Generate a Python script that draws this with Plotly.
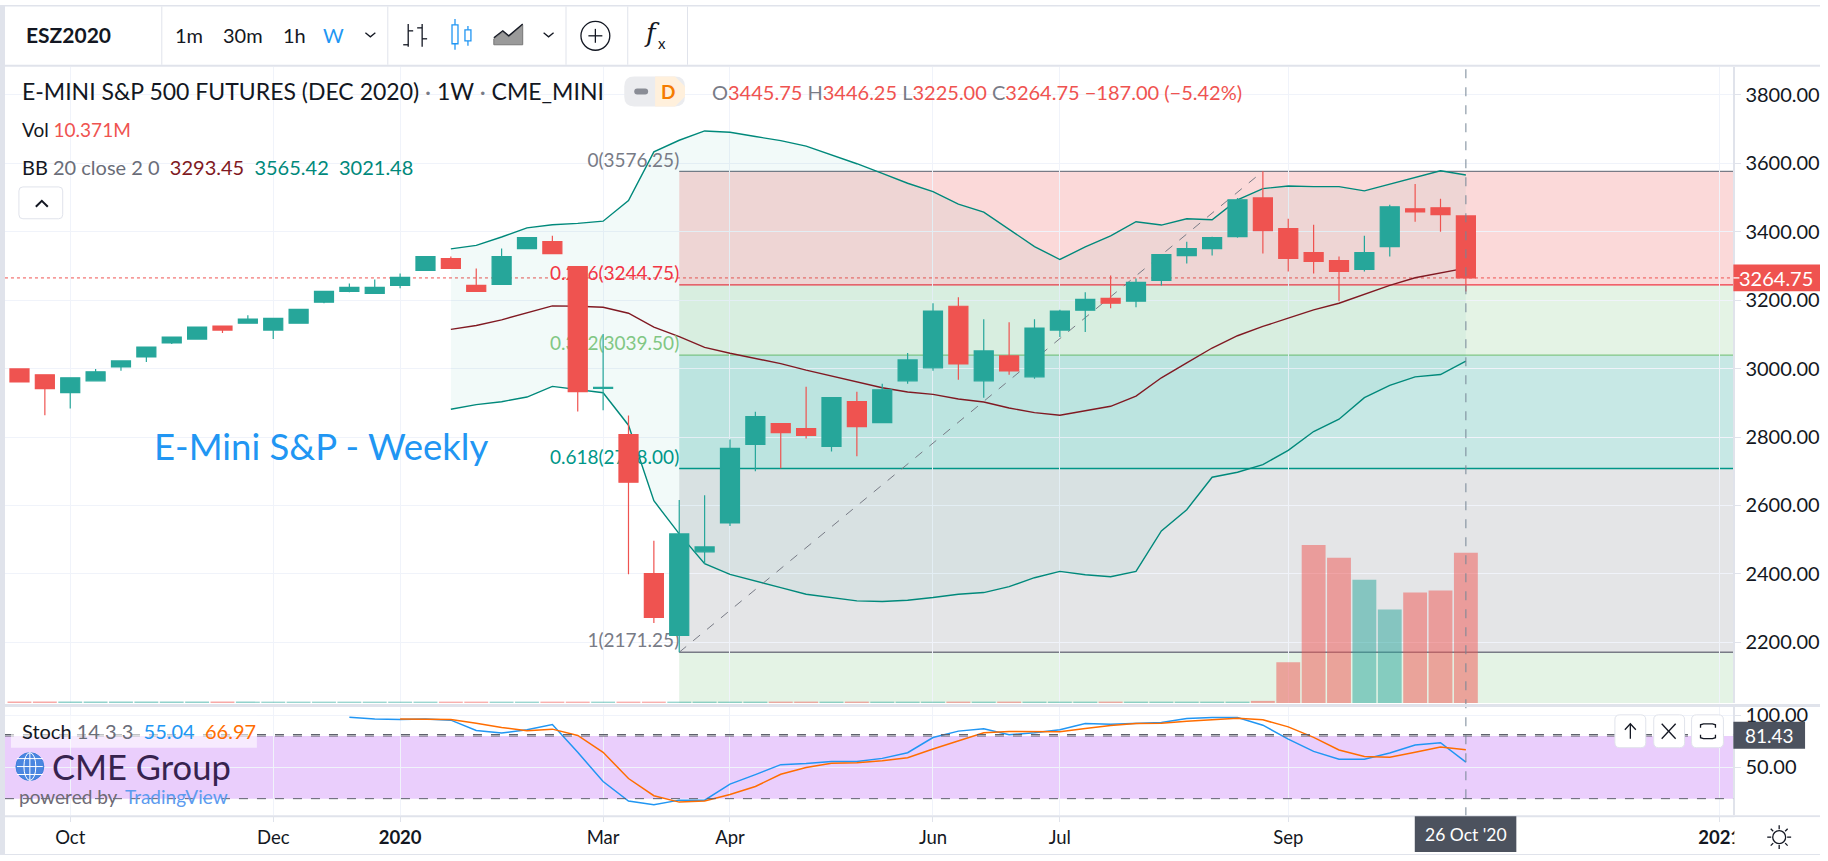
#!/usr/bin/env python3
"""E-mini S&P weekly chart, rebuilt from a TradingView screenshot."""
import pandas as pd
import plotly.graph_objects as go

W, H = 1828, 861
FONT = "Lato"
UP, DOWN = "#26A69A", "#EF5350"
GRID = "#F0F3FA"
BORDER = "#E0E3EB"
TEXT = "#131722"
GREY = "#787B86"

# weekly candles, 23 Sep 2019 to 26 Oct 2020
weeks = pd.date_range("2019-09-23", periods=58, freq="7D")
opens = [2999, 2981.6, 2929.4, 2964.2, 3004.9, 3033.9, 3074.6, 3086, 3124, 3132.7,
         3112.3, 3132.7, 3193.7, 3225.6, 3219.8, 3243, 3286.6, 3321.4, 3243, 3245.9,
         3350.5, 3370.8, 3298.2, 2942, 2807.4, 2400.8, 2220.7, 2464.6, 2548.9, 2778.3,
         2839.3, 2824.8, 2772.5, 2903.3, 2842.2, 2964.2, 3002, 3182, 2964.2, 3036.8,
         2975.8, 3112.4, 3170.4, 3205.3, 3196.6, 3257.6, 3330.2, 3350.5, 3385.4, 3498.6,
         3408.6, 3338.9, 3315.6, 3289.5, 3356.3, 3466.7, 3469.6, 3445.75]
highs = [3001, 2982, 2973, 2999, 3022.3, 3063, 3092, 3121, 3124, 3156,
         3147, 3173.3, 3225.6, 3248.8, 3260.5, 3277.9, 3327.3, 3327.3, 3292.4, 3350.5,
         3382.4, 3388.2, 3298.2, 3100.7, 2862.5, 2496.6, 2615.7, 2630.2, 2792.8, 2874,
         2839.3, 2947, 2915, 2932.3, 2955.6, 3045.5, 3190.8, 3208.2, 3144.3, 3135.6,
         3144.3, 3172, 3222.7, 3272.1, 3263.4, 3335, 3370.8, 3385.4, 3498.6, 3576.25,
         3437.6, 3420.2, 3327.3, 3388.2, 3478.3, 3539.3, 3495.7, 3446.25]
lows = [2959, 2863.5, 2883, 2964, 2993.3, 3019.4, 3071.7, 3086, 3103.6, 3132.7,
        3086.2, 3132.7, 3190.8, 3222.7, 3219.8, 3234.3, 3286.6, 3292.4, 3225.6, 3245.9,
        3350.5, 3336, 2874.2, 2878, 2398.8, 2256.5, 2171.25, 2430, 2540, 2700,
        2708.6, 2795.7, 2758, 2743.5, 2842.2, 2955.5, 2993.3, 2967.1, 2914.9, 2981.6,
        2970, 3092, 3106.5, 3176.3, 3179.2, 3243, 3306.9, 3330.2, 3382.4, 3336,
        3283.7, 3277.9, 3196.6, 3283.7, 3327.3, 3428.9, 3399.9, 3225]
closes = [2961, 2941, 2972.9, 2990.4, 3022.3, 3063, 3092, 3121, 3112.3, 3144.3,
          3147, 3173.3, 3225.6, 3237.2, 3237.2, 3266.3, 3327.3, 3292.4, 3225.6, 3327.3,
          3382.4, 3336, 2932.3, 2945, 2668, 2273, 2516.9, 2479, 2766.7, 2859.6,
          2813, 2804.5, 2914.9, 2830.6, 2938, 3025.2, 3167.5, 3013.6, 3051.4, 2993.3,
          3118.2, 3167.5, 3202.4, 3190.8, 3251.8, 3333.1, 3350.5, 3382.4, 3492.8, 3402.8,
          3321.5, 3312.7, 3283.7, 3338.9, 3472.5, 3458, 3449.3, 3264.75]
volumes = [0.09, 0.09, 0.09, 0.09, 0.09, 0.09, 0.09, 0.09, 0.09, 0.09,
           0.09, 0.09, 0.09, 0.09, 0.09, 0.09, 0.09, 0.09, 0.09, 0.09,
           0.09, 0.09, 0.09, 0.09, 0.09, 0.09, 0.09, 0.09, 0.09, 0.09,
           0.09, 0.09, 0.09, 0.09, 0.09, 0.09, 0.09, 0.09, 0.09, 0.09,
           0.09, 0.09, 0.09, 0.09, 0.09, 0.09, 0.09, 0.09, 0.09, 0.14,
           2.81, 10.91, 10.02, 8.51, 6.45, 7.62, 7.76, 10.371]

# Bollinger bands start at week 17
bb_start = 17
bb_upper = [3349.5, 3360, 3384.4, 3411, 3420, 3424, 3430.5, 3490.9, 3633.2, 3667,
            3694.2, 3690.3, 3677.8, 3666, 3649.7, 3624.5, 3598.4, 3570.3, 3541.3, 3517,
            3480.2, 3457, 3406.7, 3356.3, 3318.6, 3355.4, 3387.3, 3428.9, 3419.2, 3437.6,
            3434.7, 3492.8, 3525.7, 3533.5, 3531.5, 3531.5, 3519, 3538.3, 3557.7, 3578, 3565.42]
bb_middle = [3114.3, 3125.9, 3142.4, 3163.7, 3183, 3182, 3179.2, 3161.7, 3121, 3093,
             3062, 3044.6, 3030, 3014.6, 2995.3, 2977.8, 2959.4, 2944, 2931.4, 2924.5,
             2911, 2902.3, 2884.8, 2871.3, 2863.5, 2877, 2889.7, 2919.7, 2973, 3016.5,
             3060, 3095.9, 3123, 3147.2, 3171.4, 3190.8, 3217, 3243, 3265.3, 3278.9, 3293.45]
bb_lower = [2881, 2894.5, 2903.2, 2916.8, 2947.8, 2939, 2929.4, 2834.5, 2613.7, 2516.9,
            2429.8, 2398.8, 2380.4, 2360, 2340.7, 2332, 2321.4, 2319.4, 2323.3, 2331,
            2340.7, 2345.6, 2363, 2389, 2407.5, 2397.8, 2392, 2407.5, 2525.6, 2587.6,
            2682.5, 2697, 2719.2, 2760.9, 2816, 2852, 2915, 2950.7, 2975.8, 2982.6, 3021.48]

# stochastic, %K from week 13, %D from week 15
stoch_k_start, stoch_d_start = 13, 15
stoch_k = [98, 96.4, 95.8, 96.4, 95.2, 85.3, 82.8, 86, 91, 64.4,
           36.4, 17.7, 14.2, 18.6, 18.6, 33.9, 43, 52.6, 53.6, 55.5,
           55.5, 58.6, 64, 78.6, 84.7, 86.9, 81.2, 83.1, 86, 92,
           91.3, 92.3, 92.9, 96.7, 97.7, 97.7, 90.4, 77, 65.3, 57.7,
           57.7, 63.7, 71.4, 73.6, 55.04]
stoch_d = [96.4, 95.8, 95.8, 92.3, 88.2, 85, 86.6, 80.6, 64.4, 39.3,
           22.8, 16.7, 17.7, 24, 31.7, 43.4, 49.8, 53.9, 54.5, 56.4,
           59.3, 67.5, 75.5, 83.1, 84.4, 84.1, 84.1, 87.2, 90, 92,
           92.3, 94.2, 95.5, 97.1, 95.5, 88.8, 78.7, 66.6, 60.3, 59.6,
           64.4, 69.5, 66.97]

# fibonacci retracement, anchored on week 26 and week 49
fib_start, fib_end = 26, 49
fib_prices = [3576.25, 3244.75, 3039.5, 2708, 2171.25]
fib_labels = ["0(3576.25)", "0.236(3244.75)", "0.382(3039.50)", "0.618(2708.00)", "1(2171.25)"]
fib_colors = [GREY, "#F23645", "#81C784", "#009688", GREY]
fib_fills = ["rgba(239,83,80,0.22)", "rgba(76,175,80,0.15)", "rgba(0,150,136,0.22)",
             "rgba(120,123,134,0.2)", "rgba(76,175,80,0.15)"]

tick_dates = ["2019-10-07", "2019-12-02", "2020-01-06", "2020-03-02", "2020-04-06",
              "2020-06-01", "2020-07-06", "2020-09-07", "2021-01-04"]
tick_text = ["Oct", "Dec", "<b>2020</b>", "Mar", "Apr", "Jun", "Jul", "Sep", "<b>2021</b>"]

last_price = 3264.75
x_range = ["2019-09-19 00:00", "2021-01-07 19:00"]
price_range = [2023.2, 3882.0]
volume_range = [0, 43.93]
stoch_range = [4.1, 107.9]

shapes = []
annotations = []


def px(x):
    return x / W


def py(y):
    return 1 - y / H


def rect(x0, y0, x1, y1, fill=None, line=None, width=1, layer="above"):
    shapes.append(dict(type="rect", xref="paper", yref="paper", layer=layer,
                       x0=px(x0), x1=px(x1), y0=py(y0), y1=py(y1),
                       fillcolor=fill or "rgba(0,0,0,0)",
                       line=dict(color=line or "rgba(0,0,0,0)", width=width if line else 0)))


def rounded(x0, y0, x1, y1, r, fill="white", line=None):
    p = lambda x, y: f"{px(x):.5f},{py(y):.5f}"
    d = (f"M{p(x0 + r, y0)} L{p(x1 - r, y0)} Q{p(x1, y0)} {p(x1, y0 + r)} "
         f"L{p(x1, y1 - r)} Q{p(x1, y1)} {p(x1 - r, y1)} "
         f"L{p(x0 + r, y1)} Q{p(x0, y1)} {p(x0, y1 - r)} "
         f"L{p(x0, y0 + r)} Q{p(x0, y0)} {p(x0 + r, y0)} Z")
    shapes.append(dict(type="path", xref="paper", yref="paper", layer="above", path=d, fillcolor=fill,
                       line=dict(color=line or "rgba(0,0,0,0)", width=1 if line else 0)))


def poly(points, color=TEXT, width=1.3, fill=None, close=False):
    d = "M" + " L".join(f"{px(x):.5f},{py(y):.5f}" for x, y in points) + (" Z" if close else "")
    shapes.append(dict(type="path", xref="paper", yref="paper", layer="above", path=d,
                       fillcolor=fill or "rgba(0,0,0,0)",
                       line=dict(color=color, width=width)))


def circle(cx, cy, r, color=TEXT, width=1.3, fill=None):
    shapes.append(dict(type="circle", xref="paper", yref="paper", layer="above",
                       x0=px(cx - r), x1=px(cx + r), y0=py(cy - r), y1=py(cy + r),
                       fillcolor=fill or "rgba(0,0,0,0)",
                       line=dict(color=color, width=width)))


def label(x, y, text, size=16, color=TEXT, anchor="left", family=FONT):
    annotations.append(dict(xref="paper", yref="paper", x=px(x), y=py(y), text=text,
                            showarrow=False, xanchor=anchor, yanchor="middle",
                            font=dict(family=family, size=size, color=color)))


def span(text, color):
    return f"<span style='color:{color}'>{text}</span>"


fig = go.Figure()

# volume sits under everything else
volume_colors = ["rgba(38,166,154,0.5)" if c >= o else "rgba(239,83,80,0.5)"
                 for o, c in zip(opens, closes)]
fig.add_trace(go.Bar(x=weeks, y=volumes, marker=dict(color=volume_colors, line=dict(width=0)),
                     xaxis="x", yaxis="y2", showlegend=False))

# bollinger bands
bb_weeks = weeks[bb_start:]
fig.add_trace(go.Scatter(x=bb_weeks, y=bb_upper, mode="lines", xaxis="x", yaxis="y3",
                         line=dict(color="#00897B", width=1.4), showlegend=False))
fig.add_trace(go.Scatter(x=bb_weeks, y=bb_lower, mode="lines", xaxis="x", yaxis="y3",
                         line=dict(color="#00897B", width=1.4), fill="tonexty",
                         fillcolor="rgba(0,150,136,0.05)", showlegend=False))
fig.add_trace(go.Scatter(x=bb_weeks, y=bb_middle, mode="lines", xaxis="x", yaxis="y3",
                         line=dict(color="#801922", width=1.4), showlegend=False))

# fib trend line and level labels, both stay behind the candles
fig.add_trace(go.Scatter(x=[weeks[fib_start], weeks[fib_end]], y=[fib_prices[-1], fib_prices[0]],
                         mode="lines", xaxis="x", yaxis="y3", showlegend=False,
                         line=dict(color=GREY, width=1, dash="dash")))
fig.add_trace(go.Scatter(x=[weeks[fib_start]] * len(fib_prices), y=fib_prices, text=fib_labels,
                         mode="text", textposition="top left", xaxis="x", yaxis="y3",
                         textfont=dict(family=FONT, size=19, color=fib_colors), showlegend=False))

fig.add_trace(go.Candlestick(x=weeks, open=opens, high=highs, low=lows, close=closes,
                             xaxis="x", yaxis="y4", showlegend=False, whiskerwidth=0,
                             increasing=dict(line=dict(color=UP, width=1.2), fillcolor=UP),
                             decreasing=dict(line=dict(color=DOWN, width=1.2), fillcolor=DOWN)))

# stochastic pane
fig.add_trace(go.Scatter(x=weeks[stoch_k_start:], y=stoch_k, mode="lines", xaxis="x2", yaxis="y5",
                         line=dict(color="#2196F3", width=1.5), showlegend=False))
fig.add_trace(go.Scatter(x=weeks[stoch_d_start:], y=stoch_d, mode="lines", xaxis="x2", yaxis="y5",
                         line=dict(color="#FF6D00", width=1.5), showlegend=False))

# fib bands and lines
levels = fib_prices + [price_range[0]]
for i, price in enumerate(fib_prices):
    shapes.append(dict(type="rect", xref="x", yref="y", layer="below",
                       x0=weeks[fib_start], x1=x_range[1], y0=levels[i + 1], y1=price,
                       fillcolor=fib_fills[i], line=dict(width=0)))
    shapes.append(dict(type="line", xref="x", yref="y", layer="below",
                       x0=weeks[fib_start], x1=x_range[1], y0=price, y1=price,
                       line=dict(color=fib_colors[i], width=1.3)))

# last price line
shapes.append(dict(type="line", xref="x", yref="y", layer="below",
                   x0=x_range[0], x1=x_range[1], y0=last_price, y1=last_price,
                   line=dict(color=DOWN, width=1, dash="dot")))

# stochastic band
shapes.append(dict(type="rect", xref="x2", yref="y5", layer="below",
                   x0=x_range[0], x1=x_range[1], y0=20, y1=80,
                   fillcolor="rgba(170,60,245,0.25)", line=dict(width=0)))
for level in (20, 80, 81.43):
    shapes.append(dict(type="line", xref="x2", yref="y5", layer="above",
                       x0=x_range[0], x1=x_range[1], y0=level, y1=level,
                       line=dict(color="#5D606B", width=1, dash="dash")))

# crosshair
shapes.append(dict(type="line", xref="x", yref="paper", layer="above",
                   x0=weeks[-1], x1=weeks[-1], y0=py(816), y1=py(62),
                   line=dict(color="#758696", width=1, dash="dash")))

# frame
rect(0, 0, 5, 855, fill=BORDER)
rect(0, 0, W, 1.5, fill=BORDER)
rect(5, 60, W, 62, fill=BORDER)
rect(5, 703, W, 706, fill=BORDER)
rect(5, 815, W, 817, fill=BORDER)
rect(0, 854, W, 855, fill=BORDER)
rect(1742, 817, W, 854, fill="white")
for x in (162, 389, 568, 630, 690):
    rect(x, 1.5, x + 1, 60, fill=BORDER)

# toolbar
label(24, 30, "<b>ESZ2020</b>", size=21)
label(190, 30, "1m", size=20, anchor="center")
label(244, 30, "30m", size=20, anchor="center")
label(296, 30, "1h", size=20, anchor="center")
label(335, 30, "W", size=20, color="#2196F3", anchor="center")
poly([(367, 28), (372, 32), (377, 28)])
poly([(551 - 5, 28), (551, 32), (551 + 5, 28)])
# bars icon
poly([(410, 19), (410, 42)])
poly([(405, 40), (410, 40)])
poly([(410, 26), (415, 26)])
poly([(424, 19), (424, 42)])
poly([(419, 23), (424, 23)])
poly([(424, 34), (429, 34)])
# candles icon
poly([(457, 14), (457, 45)], color="#2196F3")
rect(454, 20, 460, 39, fill="white", line="#2196F3", width=1.3)
poly([(470, 21), (470, 41)], color="#2196F3")
rect(467, 25, 473, 36, fill="white", line="#2196F3", width=1.3)
# area icon
poly([(496, 40), (496, 34), (505, 27), (511, 32), (525, 20), (525, 40)], color="#777",
     width=1, fill="#9A9A9A", close=True)
poly([(496, 33), (505, 26), (511, 31), (525, 19)])
# add and fx
circle(598, 31, 14.5)
poly([(591, 31), (605, 31)])
poly([(598, 24), (598, 38)])
label(655, 28, "<i>f</i>", size=26, family="DejaVu Serif", anchor="center")
label(665, 38, "x", size=15, anchor="center")

# legend
label(20, 87, "E-MINI S&P 500 FUTURES (DEC 2020)" + span(" · ", GREY) + "1W" + span(" · ", GREY)
      + "CME_MINI", size=23)
rounded(627, 72, 688, 102, 10, fill="#EBECEF")
poly([(658, 72), (678, 72), (688, 82), (688, 92), (678, 102), (658, 102)], color="#FFF0DC", width=0,
     fill="#FFF0DC", close=True)
rounded(637, 84, 651, 90, 3, fill="#8A8D96")
label(671, 87, "<b>D</b>", size=19, color="#F57C00", anchor="center")
label(713, 88, span("O", GREY) + span("3445.75", DOWN) + " " + span("H", GREY) + span("3446.25", DOWN)
      + " " + span("L", GREY) + span("3225.00", DOWN) + " " + span("C", GREY) + span("3264.75", DOWN)
      + " " + span("−187.00 (−5.42%)", DOWN), size=20)
label(20, 125, "Vol " + span("10.371M", DOWN), size=19)
label(20, 163, "BB " + span("20 close 2 0", "#6A6D78") + "  " + span("3293.45", "#801922") + "  "
      + span("3565.42", "#00897B") + "  " + span("3021.48", "#00897B"), size=20)
rounded(19, 183, 63, 215, 4, fill="white", line=BORDER)
poly([(36, 203), (42, 197), (48, 203)], width=2)

# note on the chart
label(153, 444, "E-Mini S&P - Weekly", size=36.5, color="#2196F3")

# stochastic legend and logo
rect(11, 715, 258, 747, fill="rgba(255,255,255,0.6)")
label(20, 730, "Stoch " + span("14 3 3", "#6A6D78") + "  " + span("55.04", "#2196F3") + "  "
      + span("66.97", "#FF6D00"), size=20)
circle(30, 766, 14, color="#3D7FD9", width=1, fill="#4A86E0")
shapes.append(dict(type="circle", xref="paper", yref="paper", layer="above",
                   x0=px(24), x1=px(36), y0=py(752), y1=py(780),
                   line=dict(color="white", width=1), fillcolor="rgba(0,0,0,0)"))
for y in (758, 766, 774):
    poly([(17, y), (43, y)], color="white", width=1)
poly([(30, 752), (30, 780)], color="white", width=1)
label(50, 766, "CME Group", size=34.5, color="#37234F")
label(17, 796, "powered by", size=19, color="#6E6A75")
label(124, 796, "TradingView", size=19, color="#5D9BEF")

# pane buttons
for x0, x1 in ((1622, 1653), (1661, 1692), (1699, 1731)):
    rounded(x0, 714, x1, 747, 5, fill="white", line=BORDER)
poly([(1637.5, 738), (1637.5, 724)])
poly([(1632, 729), (1637.5, 723), (1643, 729)])
poly([(1669, 723), (1683, 738)])
poly([(1683, 723), (1669, 738)])
poly([(1708, 727), (1708, 724), (1711, 723), (1720, 723), (1723, 724), (1723, 727)])
poly([(1708, 734), (1708, 737), (1711, 738), (1720, 738), (1723, 737), (1723, 734)])

# axis price and time flags
rect(1741, 261, 1828, 288, fill=DOWN)
label(1784, 274.5, "3264.75", size=20, color="white", anchor="center")
poly([(1741, 274.5), (1747, 274.5)], color="white")
rect(1741, 721, 1813, 748, fill="#4C525E")
label(1777, 734.5, "81.43", size=19, color="white", anchor="center")
rect(1421, 816, 1523, 852, fill="#4C525E")
label(1472, 834, "26 Oct '20", size=17.5, color="white", anchor="center")

# settings icon
circle(1787, 837, 6.5, width=1.3)
for a, b in (((1787, 825), (1787, 829)), ((1787, 845), (1787, 849)), ((1775, 837), (1779, 837)),
             ((1795, 837), (1799, 837)), ((1778.5, 828.5), (1781, 831)), ((1793, 843), (1795.5, 845.5)),
             ((1795.5, 828.5), (1793, 831)), ((1781, 843), (1778.5, 845.5))):
    poly([a, b])

x_common = dict(type="date", range=x_range, tickmode="array", tickvals=tick_dates,
                domain=[px(5), px(1741)], showgrid=True, gridcolor=GRID, gridwidth=1,
                zeroline=False, rangeslider=dict(visible=False))
y_domain = [py(702), py(62)]
axis_font = dict(family=FONT, size=20, color=TEXT)

fig.update_layout(
    width=W, height=H, margin=dict(l=0, r=0, t=0, b=0), autosize=False,
    paper_bgcolor="white", plot_bgcolor="white", hovermode=False, showlegend=False,
    bargap=0.06, boxgap=0.25, boxgroupgap=0, dragmode=False,
    font=dict(family=FONT, size=16, color=TEXT),
    shapes=shapes, annotations=annotations,
    xaxis=dict(anchor="y", showticklabels=False, ticks="", **x_common),
    xaxis2=dict(anchor="y5", matches="x", ticktext=tick_text, showticklabels=True, ticks="outside",
                ticklen=6, tickcolor=BORDER, tickfont=dict(family=FONT, size=18.5, color=TEXT), **x_common),
    yaxis=dict(domain=y_domain, range=price_range, side="right", anchor="x", showgrid=True, gridcolor=GRID,
               zeroline=False, dtick=200, tickformat=".2f", ticks="outside", ticklen=6, tickcolor=BORDER,
               showline=True, linecolor=BORDER, linewidth=2, tickfont=axis_font),
    yaxis2=dict(domain=y_domain, range=volume_range, overlaying="y", visible=False, anchor="x"),
    yaxis3=dict(domain=y_domain, range=price_range, overlaying="y", visible=False, anchor="x"),
    yaxis4=dict(domain=y_domain, range=price_range, overlaying="y", visible=False, anchor="x"),
    yaxis5=dict(domain=[py(815), py(706)], range=stoch_range, side="right", anchor="x2", showgrid=True,
                gridcolor=GRID, zeroline=False, tickvals=[50, 100], tickformat=".2f", ticks="outside",
                ticklen=6, tickcolor=BORDER, showline=True, linecolor=BORDER, linewidth=2,
                tickfont=axis_font),
)

fig.write_html("out.html", config={"displayModeBar": False},
               post_script="document.body.style.margin='0';")
